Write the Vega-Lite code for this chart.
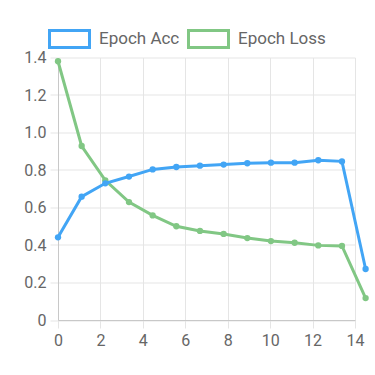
{
  "$schema": "https://vega.github.io/schema/vega-lite/v6.json",
  "autosize": {"type": "none"},
  "padding": {"left": 58, "top": 57.5, "right": 20, "bottom": 55},
  "width": 297,
  "height": 262.5,
  "background": "white",
  "data": {
    "values": [
      {"epoch": 0, "metric": "Epoch Acc", "value": 0.441},
      {"epoch": 1.115, "metric": "Epoch Acc", "value": 0.658},
      {"epoch": 2.23, "metric": "Epoch Acc", "value": 0.729},
      {"epoch": 3.346, "metric": "Epoch Acc", "value": 0.765},
      {"epoch": 4.462, "metric": "Epoch Acc", "value": 0.803},
      {"epoch": 5.577, "metric": "Epoch Acc", "value": 0.816},
      {"epoch": 6.692, "metric": "Epoch Acc", "value": 0.823},
      {"epoch": 7.808, "metric": "Epoch Acc", "value": 0.829},
      {"epoch": 8.923, "metric": "Epoch Acc", "value": 0.836},
      {"epoch": 10.038, "metric": "Epoch Acc", "value": 0.839},
      {"epoch": 11.154, "metric": "Epoch Acc", "value": 0.839},
      {"epoch": 12.269, "metric": "Epoch Acc", "value": 0.852},
      {"epoch": 13.385, "metric": "Epoch Acc", "value": 0.846},
      {"epoch": 14.5, "metric": "Epoch Acc", "value": 0.272},
      {"epoch": 0, "metric": "Epoch Loss", "value": 1.38},
      {"epoch": 1.115, "metric": "Epoch Loss", "value": 0.928},
      {"epoch": 2.23, "metric": "Epoch Loss", "value": 0.745},
      {"epoch": 3.346, "metric": "Epoch Loss", "value": 0.629},
      {"epoch": 4.462, "metric": "Epoch Loss", "value": 0.558},
      {"epoch": 5.577, "metric": "Epoch Loss", "value": 0.5},
      {"epoch": 6.692, "metric": "Epoch Loss", "value": 0.475},
      {"epoch": 7.808, "metric": "Epoch Loss", "value": 0.459},
      {"epoch": 8.923, "metric": "Epoch Loss", "value": 0.437},
      {"epoch": 10.038, "metric": "Epoch Loss", "value": 0.421},
      {"epoch": 11.154, "metric": "Epoch Loss", "value": 0.412},
      {"epoch": 12.269, "metric": "Epoch Loss", "value": 0.398},
      {"epoch": 13.385, "metric": "Epoch Loss", "value": 0.395},
      {"epoch": 14.5, "metric": "Epoch Loss", "value": 0.117}
    ]
  },
  "encoding": {
    "x": {
      "field": "epoch", "type": "quantitative",
      "scale": {"domain": [0, 14], "nice": false, "zero": false},
      "axis": {"values": [0, 2, 4, 6, 8, 10, 12, 14], "title": null, "labelFlush": false}
    },
    "y": {
      "field": "value", "type": "quantitative",
      "scale": {"domain": [0, 1.4], "nice": false},
      "axis": {"values": [0, 0.2, 0.4, 0.6, 0.8, 1.0, 1.2, 1.4], "title": null, "labelFlush": false,
        "labelExpr": "datum.value == 0 ? '0' : format(datum.value, '.1f')"}
    },
    "color": {
      "field": "metric", "type": "nominal",
      "scale": {"domain": ["Epoch Acc", "Epoch Loss"], "range": ["#42a5f5", "#81c784"]},
      "legend": {
        "orient": "none", "legendX": -10, "legendY": -40, "direction": "horizontal",
        "title": null,
        "symbolType": "M0,-0.425H1V0.425H-1V-0.425H0H-1V0.425H1V-0.425Z", "symbolSize": 1600,
        "symbolStrokeWidth": 3,
        "labelFontSize": 17, "labelColor": "#666", "labelFont": "Roboto",
        "labelOffset": 8, "columnPadding": 2
      }
    }
  },
  "layer": [
    {
      "transform": [{"filter": "datum.metric == 'Epoch Loss'"}],
      "mark": {"type": "line", "strokeWidth": 3, "clip": false,
        "point": {"filled": true, "size": 40}}
    },
    {
      "transform": [{"filter": "datum.metric == 'Epoch Acc'"}],
      "mark": {"type": "line", "strokeWidth": 3, "clip": false,
        "point": {"filled": true, "size": 40}}
    }
  ],
  "config": {
    "view": {"stroke": null},
    "axis": {
      "labelFont": "Roboto", "labelFontSize": 16, "labelColor": "#666",
      "gridColor": "#e5e5e5", "gridWidth": 1,
      "tickColor": "#e5e5e5", "tickSize": 8, "tickWidth": 1,
      "domainColor": "#c8c8c8", "domainWidth": 1,
      "labelPadding": 4
    }
  }
}
